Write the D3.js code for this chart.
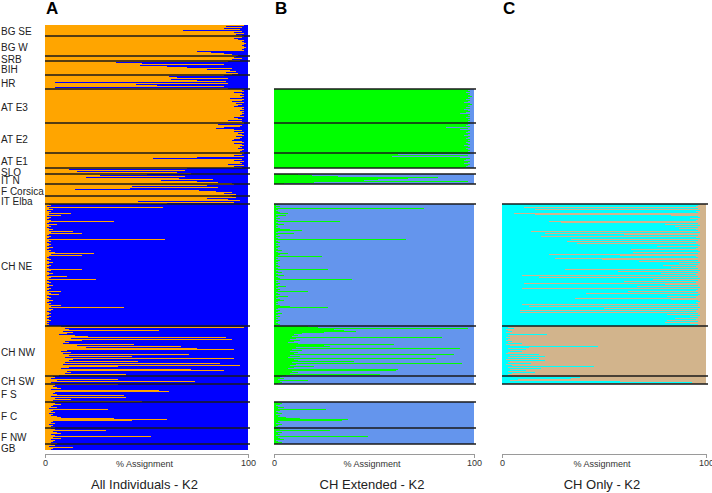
<!DOCTYPE html>
<html><head><meta charset="utf-8">
<script src="https://cdn.jsdelivr.net/npm/d3@7"></script>
<style>
body{margin:0;background:#fff}
svg{display:block}
text{font-family:"Liberation Sans",Arial,Helvetica,sans-serif}
</style>
</head><body>
<svg id="chart" width="712" height="493"></svg>
<script>
// ---------- DATA ----------
const populations = ["BG SE","BG W","SRB","BIH","HR","AT E3","AT E2","AT E1","SLO","IT N","F Corsica","IT Elba","CH NE","CH NW","CH SW","F S","F C","F NW","GB"];

// Panel A: % assignment to cluster 1 (orange), per individual
const valuesA = [
  [98,89,97,88,96,68,97,93,98,94,97],
  [98,97,93,95,98,97,98,99,98,97,98,99,98,97,98,75,82,88,92,95],
  [94,93,97,92,96],
  [90,35,48,88,47,60,70,92,80,91,94,89,95,92],
  [88,61,65,90,62,75,89,5,90,45,55,88,5,90],
  [98,97,98,93,97,98,96,98,97,91,98,97,92,98,94,97,95,93,98,97,98,96,98,97,98,97,96,98,93,95,97,90,97,98],
  [98,85,97,96,88,84,93,97,93,98,95,97,98,94,97,96,93,92,97,98,93,97,98,96,97,95,98,97,96,98],
  [98,97,93,98,75,53,97,93,98,96,97,90,98,93,97],
  [70,12,69,16,65,72],
  [50,27,69,20,66,83,57,75,85,92],
  [93,80,43,85,42,15,76,84,92,88,94,91],
  [92,94,80,90,96,46,93,60],
  [2,3,1,58,2,4,1,3,2,13, 2,8,1,3,2,1,3,34,2,1, 6,2,3,1,2,4,2,14,3,18, 2,1,3,2,1,59,2,3,1,2,
   3,2,1,4,2,1,3,2,5,24, 3,18,2,1,2,3,1,2,4,2, 1,3,2,1,2,18,3,1,2,4, 2,1,11,3,2,25,1,2,3,1,
   2,4,2,1,3,2,1,8,2,3, 7,1,2,3,1,2,4,2,1,3, 2,8,3,39,2,4,3,1,2,3, 2,1,3,2,1,2,3,1,2,1, 2,1],
  [8,98,10,12,56,9,14,11,7,15, 21,89,13,92,18,10,12,9,44,16, 67,20,75,93,11,8,13,9,71,12,
   43,10,93,14,12,46,10,86,9,96, 36,12,8,72,88,11,13,10,40,7],
  [4,5,3,36,6,74,3,5],
  [36,5,4,6,8,3,56,61,5,4,6,39,3,40,5,13,4,48],
  [3,5,8,4,3,6,2,31,4,3,5,2,4,3,6,8,34,60,43,4,3,5,2,4,3,5],
  [3,5,30,4,6,8,3,5,52,4,8,3,5,4,3,6],
  [3,5,2,14,4,3]
];

// Panel B: % assignment to cluster 1 (green); null = population not in this analysis
const valuesB = [
  null, null, null, null, null,
  [98,97,98,96,98,97,98,99,97,98,96,98,97,95,98,99,97,98,96,98,95,97,98,96,93,98,97,98,96,98,97,98,97,98],
  [98,97,96,98,86,97,93,98,97,96,98,97,95,98,97,96,98,97,98,96,97,98,95,97,98,96,97,98,97,98],
  [98,62,97,59,93,98,96,95,98,97,95,98,97,96,98],
  null,
  [12,19,32,82,67,52,45,97,20,5],
  null, null,
  [2,1,3,1,75,2,1,2,3,7, 1,6,2,1,3,1,2,33,1,2, 5,1,2,1,3,8,14,2,1,10, 2,1,3,1,2,66,1,2,3,1,
   2,1,3,2,1,2,4,1,2,7, 3,2,24,1,2,1,3,2,1,2, 1,2,3,1,2,27,1,2,4,1, 2,5,1,2,3,39,1,2,1,3,
   2,1,6,2,1,3,2,17,1,2, 3,1,7,2,1,3,5,2,1,2, 1,3,8,27,2,1,3,2,1,4, 2,1,3,1,2,1,3,2,1,2, 3,1],
  [17,22,97,30,35,41,25,14,10,12, 9,84,11,8,13,10,7,12,60,25, 28,11,93,9,14,8,12,10,90,8,
   13,7,81,10,12,40,9,94,11,8, 20,10,7,62,61,9,12,8,53,6],
  [4,3,5,2,17,3,4,2],
  null,
  [2,4,3,1,2,5,2,26,3,1,2,4,1,3,2,6,13,37,34,2,3,1,4,2,1,3],
  [2,3,28,1,4,2,3,1,47,2,3,5,1,2,4,2],
  null
];

// Panel C: % assignment to cluster 1 (cyan)
const valuesC = [
  null,null,null,null,null,null,null,null,null,null,null,null,
  [97,96,95,11,96,16,97,95,96,6, 16,83,96,97,92,96,95,23,29,96, 80,97,85,96,87,95,96,14,97,21,
   60,96,19,95,97,34,96,32,95,37, 96,97,76,96,95,63,96,97,64,96, 23,58,95,96,26,49,96,67,97,87,
   96,79,95,83,96,31,97,57,96,78, 95,10,96,18,97,74,96,60,95,11, 80,96,66,97,10,96,95,62,96,41,
   97,96,81,95,36,83,96,97,95,96, 10,96,13,97,50,96,9,95,9,96, 81,97,92,96,85,95,81,96,80,92, 96,94],
  [4,3,6,2,3,5,2,4,22,3, 4,2,4,3,2,5,3,10,2,4, 47,13,3,12,4,10,3,2,18,4,
   21,3,18,2,21,4,3,14,2,5, 45,3,19,4,12,3,16,5,3,4],
  [5,38,34,8,4,58,93,3],
  null,null,null,null
];

const tickValues = [0, 100];
const panelLetters = ["A","B","C"];
const panelTitles = ["All Individuals - K2","CH Extended - K2","CH Only - K2"];
const axisLabel = "% Assignment";

// ---------- LAYOUT ----------
const svg = d3.select("#chart");
const panels = [
  {vals: valuesA, c1: "#FFA500", c2: "#0000FF", x0: 45,  x1: 248},
  {vals: valuesB, c1: "#00FF00", c2: "#6495ED", x0: 274, x1: 474},
  {vals: valuesC, c1: "#00FFFF", c2: "#D2B48C", x0: 502, x1: 706}
];

// individual index positions shared across panels
const groupStart = [];
let n = 0;
valuesA.forEach(v => { groupStart.push(n); n += v.length; });
const y = d3.scaleBand().domain(d3.range(n)).range([25, 450]).padding(0);
const bw = y.bandwidth();
const yOf = i => i < n ? y(i) : 450;

panels.forEach((p, pi) => {
  const x = d3.scaleLinear().domain([0, 100]).range([p.x0, p.x1]);
  const g = svg.append("g");
  const rows = [];
  p.vals.forEach((v, gi) => {
    if (!v) return;
    v.forEach((q, i) => rows.push({idx: groupStart[gi] + i, q}));
  });
  const bars = g.append("g").attr("shape-rendering", "crispEdges");
  bars.selectAll("rect.c1").data(rows).join("rect")
    .attr("class", "c1")
    .attr("x", x(0)).attr("y", d => y(d.idx))
    .attr("width", d => x(d.q) - x(0)).attr("height", bw)
    .attr("fill", p.c1);
  bars.selectAll("rect.c2").data(rows).join("rect")
    .attr("class", "c2")
    .attr("x", d => x(d.q)).attr("y", d => y(d.idx))
    .attr("width", d => x(100) - x(d.q)).attr("height", bw)
    .attr("fill", p.c2);

  // separators between populations
  const seps = [];
  for (let gi = 0; gi <= populations.length; gi++) {
    const prev = gi > 0 ? p.vals[gi - 1] : null;
    const cur = gi < populations.length ? p.vals[gi] : null;
    if (gi === 0 || gi === populations.length) {
      if (pi > 0 && (prev || cur)) seps.push(gi === 0 ? 25 : 450);
      continue;
    }
    if (prev || cur) seps.push(yOf(groupStart[gi]));
  }
  g.selectAll("line.sep").data(seps).join("line")
    .attr("class", "sep")
    .attr("x1", x(0)).attr("x2", x(100) + 2)
    .attr("y1", d => d).attr("y2", d => d)
    .attr("stroke", "#1a1a1a").attr("stroke-width", 1.4);

  // axis
  const ax = svg.append("g").attr("transform", "translate(0,454)")
    .call(d3.axisBottom(x).tickValues(tickValues).tickSize(4).tickPadding(2).tickFormat(d3.format("d")));
  ax.select(".domain").attr("stroke", "#9a9a9a");
  ax.selectAll(".tick line").attr("stroke", "#9a9a9a");
  ax.selectAll(".tick text").attr("font-size", 9).attr("fill", "#333")
    .attr("font-family", "'Liberation Sans', Arial, sans-serif");

  const cx = (p.x0 + p.x1) / 2;
  svg.append("text").attr("x", cx - 2).attr("y", 466.5)
    .attr("text-anchor", "middle").attr("font-size", 9).attr("fill", "#333")
    .text(axisLabel);
  svg.append("text").attr("x", cx - 2).attr("y", 489)
    .attr("text-anchor", "middle").attr("font-size", 13).attr("fill", "#222")
    .text(panelTitles[pi]);
  svg.append("text").attr("x", p.x0 + 1).attr("y", 14)
    .attr("font-size", 17).attr("font-weight", "bold").attr("fill", "#000")
    .text(panelLetters[pi]);
});

// population labels (panel A)
svg.append("g").selectAll("text").data(populations).join("text")
  .attr("x", 1)
  .attr("y", (d, gi) => (yOf(groupStart[gi]) + yOf(groupStart[gi] + valuesA[gi].length)) / 2 + 1)
  .attr("dominant-baseline", "central")
  .attr("font-size", 10).attr("fill", "#222")
  .text(d => d);
</script>
</body></html>
